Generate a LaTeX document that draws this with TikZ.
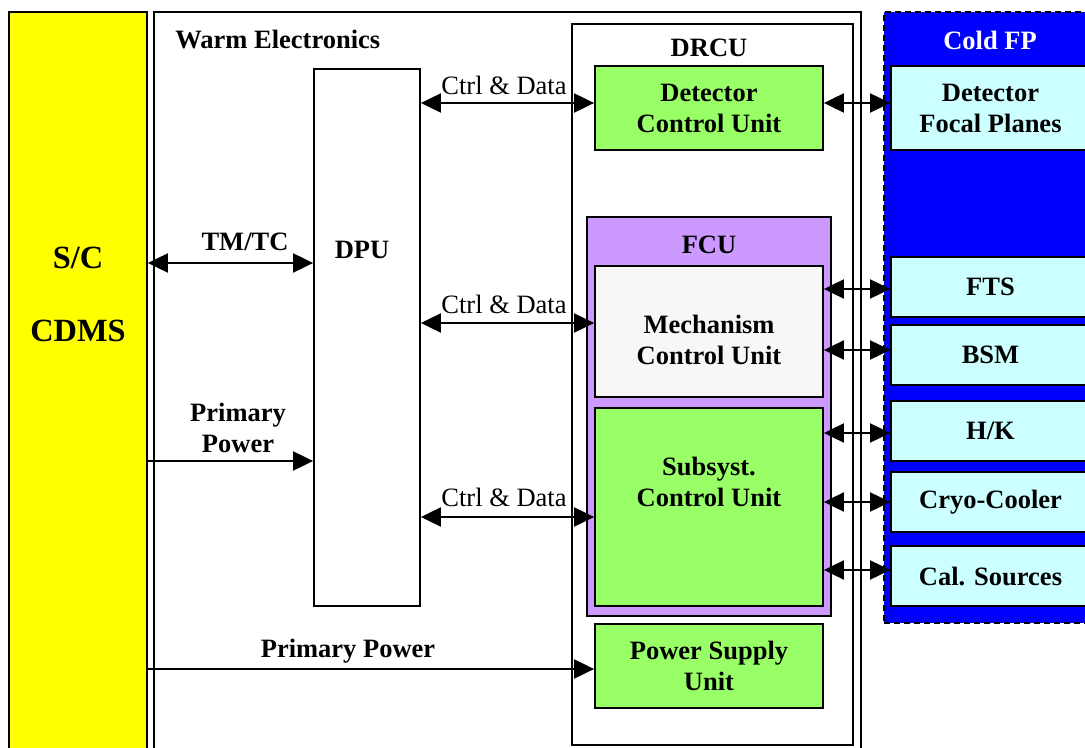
\documentclass[tikz,border=0pt]{standalone}
\usepackage{fontspec}
\setmainfont{Liberation Serif}
\usetikzlibrary{arrows.meta}
\definecolor{scyellow}{RGB}{255,255,0}
\definecolor{ugreen}{RGB}{153,255,102}
\definecolor{fcupurple}{RGB}{204,153,255}
\definecolor{mcugray}{RGB}{247,247,247}
\definecolor{fpcyan}{RGB}{204,255,255}
\definecolor{fpblue}{RGB}{0,0,255}
\begin{document}
\begin{tikzpicture}[x=0.5pt,y=-0.5pt,
  font=\fontsize{13.25}{15.5}\selectfont\bfseries,
  box/.style={draw=black, line width=0.9pt, inner sep=0pt, align=center},
  txt/.style={inner sep=0pt, align=center},
  big/.style={inner sep=0pt, font=\fontsize{16.2}{19}\selectfont\bfseries},
  lbl/.style={inner sep=0pt, font=\fontsize{13.25}{15.5}\selectfont\mdseries},
  tip/.tip={Triangle[length=10pt,width=9.5pt]},
  arr/.style={line width=1pt, -tip},
  darr/.style={line width=1pt, tip-tip}
]
\clip (0,0) rectangle (1085,748);
\fill[white] (0,0) rectangle (1085,748);

% containers
\node[box, fill=white, minimum width=353.5pt, minimum height=374pt] (warm) at (507.5,386) {};
\node[box, fill=scyellow, minimum width=69pt, minimum height=374pt] (sc) at (78,386) {};
\node[box, fill=white, minimum width=140.5pt, minimum height=360.5pt] (drcu) at (712.5,384.5) {};
\node[box, fill=white, minimum width=53pt, minimum height=268.5pt] (dpu) at (367,337.5) {};
\node[box, fill=fcupurple, minimum width=122pt, minimum height=199.5pt] (fcu) at (709,416.5) {};
\node[box, fill=fpblue, dash pattern=on 3pt off 2pt, minimum width=106.5pt, minimum height=305.5pt] (cold) at (990.5,317.5) {};

% inner units
\node[box, fill=ugreen, minimum width=114pt, minimum height=42pt] (dcu) at (709,108) {Detector\\Control Unit};
\node[box, fill=mcugray, minimum width=114pt, minimum height=65.5pt] (mcu) at (709,331.5) {};
\node[box, fill=ugreen, minimum width=114pt, minimum height=99pt] (scu) at (709,507) {};
\node[box, fill=ugreen, minimum width=114pt, minimum height=42pt] (psu) at (709,666) {Power Supply\\Unit};

% cold FP units
\node[box, fill=fpcyan, minimum width=99.5pt, minimum height=42pt] (dfp) at (990.5,108) {Detector\\Focal Planes};
\node[box, fill=fpcyan, minimum width=99.5pt, minimum height=30pt] (fts) at (990.5,287) {FTS};
\node[box, fill=fpcyan, minimum width=99.5pt, minimum height=30pt] (bsm) at (990.5,355) {BSM};
\node[box, fill=fpcyan, minimum width=99.5pt, minimum height=30pt] (hk) at (990.5,431) {H/K};
\node[box, fill=fpcyan, minimum width=99.5pt, minimum height=30pt] (cryo) at (990.5,502) {Cryo-Cooler};
\node[box, fill=fpcyan, minimum width=99.5pt, minimum height=30pt] (cal) at (990.5,576) {Cal. Sources};

% titles and texts
\node[txt, anchor=west] (warmt) at (175,40) {Warm Electronics};
\node[txt] (drcut) at (709,48) {DRCU};
\node[txt, text=white] (coldt) at (990,40) {Cold FP};
\node[txt] (fcut) at (709,245) {FCU};
\node[big] (sct) at (78,258) {S/C};
\node[big] (cdmst) at (78,331) {CDMS};
\node[txt] (dput) at (362,250) {DPU};
\node[txt] (mcut) at (709,340) {Mechanism\\Control Unit};
\node[txt] (scut) at (709,482) {Subsyst.\\Control Unit};

% connectors
\draw[darr] (sc.east |- 0,263) -- (dpu.west |- 0,263);
\node[txt] (tmtc) at (245,242) {TM/TC};
\draw[arr] (sc.east |- 0,461) -- (dpu.west |- 0,461);
\node[txt] (pp1) at (238,428) {Primary\\Power};
\draw[arr] (sc.east |- 0,669) -- (psu.west |- 0,669);
\node[txt] (pp2) at (348,651) {Primary Power};

\draw[darr] (dpu.east |- 0,103) -- (dcu.west |- 0,103);
\node[lbl] (cd1) at (504,85) {Ctrl \& Data};
\draw[darr] (dpu.east |- 0,323) -- (mcu.west |- 0,323);
\node[lbl] (cd2) at (504,304) {Ctrl \& Data};
\draw[darr] (dpu.east |- 0,517) -- (scu.west |- 0,517);
\node[lbl] (cd3) at (504,497) {Ctrl \& Data};

\draw[darr] (dcu.east |- 0,103) -- (dfp.west |- 0,103);
\draw[darr] (mcu.east |- 0,289) -- (fts.west |- 0,289);
\draw[darr] (mcu.east |- 0,350) -- (bsm.west |- 0,350);
\draw[darr] (scu.east |- 0,433) -- (hk.west |- 0,433);
\draw[darr] (scu.east |- 0,502) -- (cryo.west |- 0,502);
\draw[darr] (scu.east |- 0,570) -- (cal.west |- 0,570);
\end{tikzpicture}
\end{document}
